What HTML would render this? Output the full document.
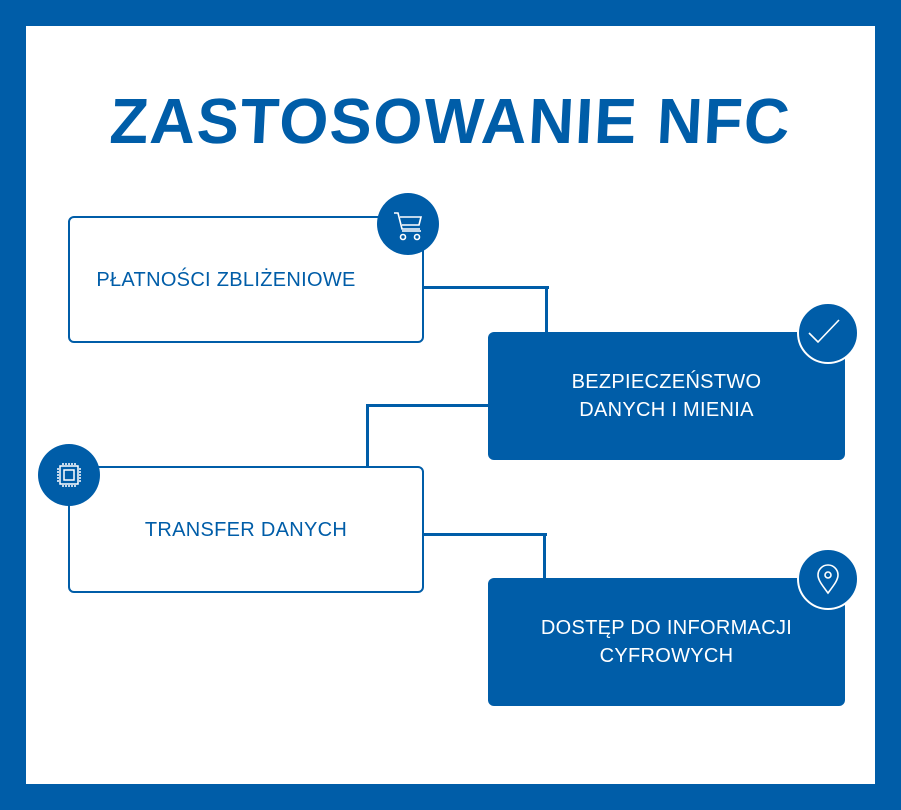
<!DOCTYPE html>
<html><head><meta charset="utf-8"><style>
body{margin:0;width:901px;height:810px;background:#005da8;position:relative;overflow:hidden;font-family:"Liberation Sans",sans-serif}
.inner{position:absolute;left:26px;top:26px;width:849px;height:758px;background:#fff}
.t{position:absolute;left:0;width:901px;top:84px;text-align:center;font-weight:bold;font-size:64px;color:#005da8;letter-spacing:1.5px;transform:scaleX(0.985) skewX(-3deg)}
.box{position:absolute;border-radius:6px;box-sizing:border-box;display:flex;align-items:center;justify-content:center;text-align:center;font-size:20px;line-height:28px;letter-spacing:0.3px}
.w{background:#fff;border:2px solid #005da8;color:#005da8}
.b{background:#005da8;color:#fff}
.l{position:absolute;background:#005da8}
.c{position:absolute;width:62px;height:62px;border-radius:50%;background:#005da8;box-sizing:border-box}
.c svg{position:absolute;left:0;top:0}
</style></head><body>
<div class="inner"></div>
<div class="t">ZASTOSOWANIE NFC</div>
<div class="l" style="left:423px;top:286px;width:126px;height:3px"></div>
<div class="l" style="left:545px;top:286px;width:3px;height:47px"></div>
<div class="l" style="left:366px;top:404px;width:123px;height:3px"></div>
<div class="l" style="left:366px;top:404px;width:3px;height:64px"></div>
<div class="l" style="left:423px;top:533px;width:124px;height:3px"></div>
<div class="l" style="left:543px;top:533px;width:3px;height:46px"></div>
<div class="box w" style="left:68px;top:216px;width:356px;height:127px;padding-right:40px">PŁATNOŚCI ZBLIŻENIOWE</div>
<div class="box b" style="left:488px;top:332px;width:357px;height:128px">BEZPIECZEŃSTWO<br>DANYCH I MIENIA</div>
<div class="box w" style="left:68px;top:466px;width:356px;height:127px">TRANSFER DANYCH</div>
<div class="box b" style="left:488px;top:578px;width:357px;height:128px">DOSTĘP DO INFORMACJI<br>CYFROWYCH</div>
<div class="c" style="left:377px;top:193px"><svg width="62" height="62" fill="none" stroke="#fff" stroke-width="1.6"><path d="M17 20h4l4 16h18M23 24h21l-2 8H25M25 38h19"/><circle cx="26" cy="44" r="2.5"/><circle cx="40" cy="44" r="2.5"/></svg></div>
<div class="c" style="left:797px;top:302px;border:2px solid #fff"><svg width="58" height="58" fill="none" stroke="#fff" stroke-width="1.6"><path d="M10 29l9 9 21-22"/></svg></div>
<div class="c" style="left:38px;top:444px"><svg width="62" height="62" fill="none" stroke="#fff" stroke-width="1.5"><rect x="22" y="22" width="18" height="18"/><rect x="26" y="26" width="10" height="10"/><path d="M25 19v2M28 19v2M31 19v2M34 19v2M37 19v2M25 41v2M28 41v2M31 41v2M34 41v2M37 41v2M19 25h2M19 28h2M19 31h2M19 34h2M19 37h2M41 25h2M41 28h2M41 31h2M41 34h2M41 37h2"/></svg></div>
<div class="c" style="left:797px;top:548px;border:2px solid #fff"><svg width="58" height="58" fill="none" stroke="#fff" stroke-width="1.6"><path d="M29 43c-6-8-10-13-10-18a10 10 0 0 1 20 0c0 5-4 10-10 18z"/><circle cx="29" cy="25" r="3"/></svg></div>
</body></html>
